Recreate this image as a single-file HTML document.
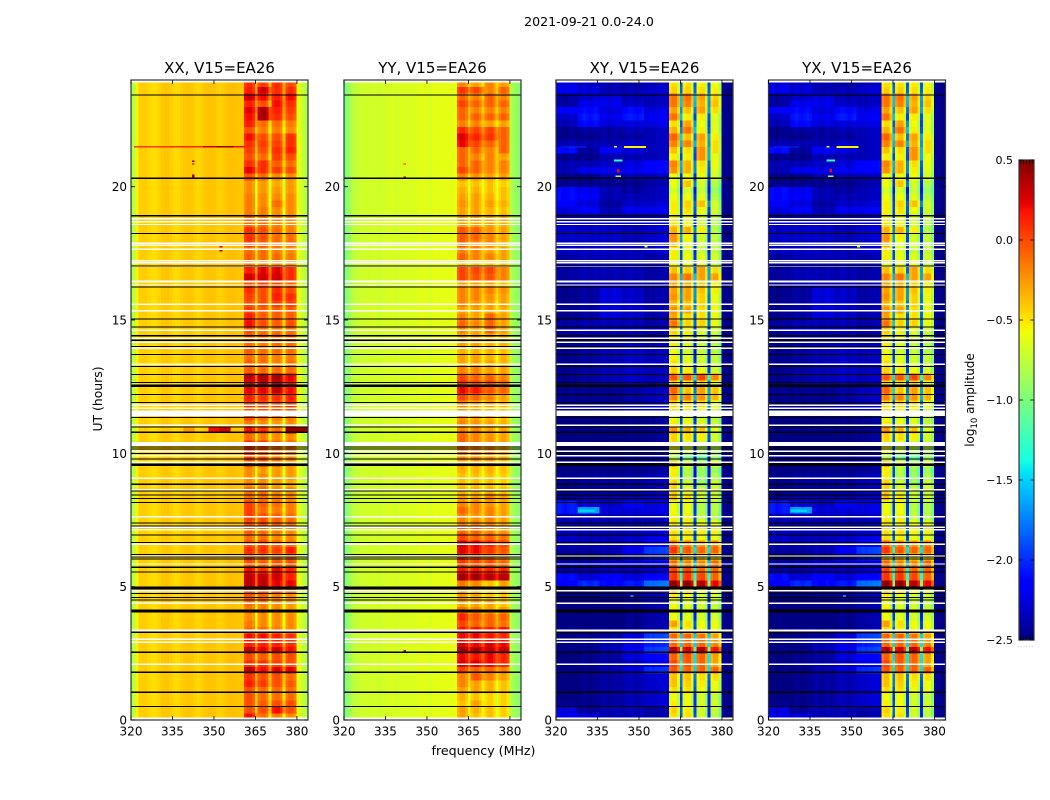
<!DOCTYPE html>
<html>
<head>
<meta charset="utf-8">
<title>2021-09-21 0.0-24.0</title>
<style>
html,body{margin:0;padding:0;background:#fff;}
svg{display:block;font-family:"DejaVu Sans","Liberation Sans",sans-serif;fill:#000;}
</style>
</head>
<body>
<svg id="chart" xmlns="http://www.w3.org/2000/svg" width="1050" height="800" viewBox="0 0 1050 800">
<text x="589" y="26" font-size="12.6" text-anchor="middle">2021-09-21 0.0-24.0</text>
<text x="483.5" y="755" font-size="12.6" text-anchor="middle">frequency (MHz)</text>
<text transform="translate(102,399) rotate(-90)" font-size="12.4" text-anchor="middle">UT (hours)</text>
<text transform="translate(974,400) rotate(-90)" font-size="12" text-anchor="middle">log<tspan font-size="8.5" dy="3">10</tspan><tspan dy="-3"> amplitude</tspan></text>
<g id="panels"></g>
<g id="colorbar"></g>
</svg>
<script>
// ---- categories and tick labels ----
const panelTitles = ["XX, V15=EA26", "YY, V15=EA26", "XY, V15=EA26", "YX, V15=EA26"];
const freqTicks = [320, 335, 350, 365, 380];
const hourTicks = [0, 5, 10, 15, 20];
const colorbarTicks = [0.5, 0.0, -0.5, -1.0, -1.5, -2.0, -2.5];

// ---- per-channel bandpass (log10 amplitude for off-band, offset for sub-band channels) ----
const xxChan = [-.85,-.72,-.55,-.42,-.42,-.42,-.45,-.47,-.48,-.47,-.44,-.41,-.40,-.40,-.42,-.45,-.47,-.46,-.43,-.41,-.40,-.40,-.41,-.44,-.46,-.44,-.41,-.40,-.39,-.39,-.40,-.42,-.44,-.42,-.40,-.38,-.38,-.38,-.39,-.40,-.40,
 -.06,0,0,-.08,-.42, -.06,0,0,-.08,-.4, -.06,0,0,-.08,-.4, -.06,0,0,-.08, -.6,-.65,-.75,-.8,-.85];
const yyChan = [-1.05,-.95,-.85,-.78,-.74,-.72,-.7,-.7,-.69,-.69,-.68,-.68,-.7,-.7,-.68,-.68,-.66,-.66,-.68,-.68,-.66,-.65,-.65,-.66,-.66,-.65,-.65,-.63,-.63,-.63,-.65,-.65,-.63,-.62,-.62,-.62,-.62,-.62,-.62,-.62,-.6,
 -.04,.03,.03,-.06,-.25, -.04,.03,.03,-.06,-.22, -.04,.03,.03,-.06,-.22, -.04,.03,.03,-.06, -.8,-.85,-.9,-.95,-1.0];
const xyChan = [-.07,-.04,-.07,-.1,-.07,-.04,-.04,-.07,-.1,-.07,-.04,-.07,-.1,-.07,-.04,-.07,-.07,-.04,-.07,-.1,-.07,-.04,-.07,-.07,-.1,-.07,-.04,-.04,-.07,-.1,-.07,-.04,-.07,-.07,-.04,-.07,-.04,-.04,-.02,-.02,.01,
 -.05,.03,.03,-.2,-1.4, -.05,.03,.03,-.2,-1.4, -.05,.03,.03,-.2,-1.35, -.05,.03,.03,-.25, -2.45,-2.45,-2.48,-2.48,-2.48];

// ---- sub-band level per 15-minute row (row 0 = 0.0 UT), four sub-bands ----
const xxBand = [
[.2,-.1,-.15,-.2],[0,0,.2,0],[0,-.05,0,0],[0,-.1,-.1,-.1],[0,-.1,-.1,-.1],[.15,.05,0,-.05],[.1,0,0,-.1],[.35,.2,.25,.25],
[.1,.1,.05,0],[0,-.05,0,0],[.35,.25,.3,.2],[.15,.15,.15,.1],[.2,.2,.15,.1],[-.1,-.1,-.15,-.2],[-.15,-.2,-.2,-.2],[-.2,-.2,-.2,-.2],
[-.15,-.15,-.2,-.25],[-.1,-.15,-.2,-.25],[0,-.05,-.15,-.2],[.05,.05,0,-.05],[.35,.35,.25,.25],[.35,.35,.3,.15],[.2,.1,.25,.15],[0,-.05,0,0],
[.05,-.1,-.1,-.05],[.1,.1,.05,.15],[0,.05,-.05,-.1],[-.1,-.1,-.2,-.2],[-.05,-.1,-.15,-.2],[0,0,-.05,-.1],[.05,0,-.05,-.1],[.05,-.1,-.15,-.15],
[.05,-.05,-.1,-.15],[-.1,-.1,-.15,-.2],[-.1,-.1,-.2,-.2],[-.2,-.2,-.25,-.3],[-.2,-.2,-.25,-.25],[-.2,-.25,-.25,-.25],[0,0,-.1,-.2],[.05,0,-.1,-.15],
[.1,0,-.1,-.1],[.1,.05,-.1,-.1],[-.1,-.15,-.2,-.2],[.2,.1,-.1,.45],[-.15,-.2,-.25,-.2],[0,-.1,-.15,-.15],[0,0,0,0],[.1,.05,.05,.1],
[.15,.1,.1,.15],[.25,.25,.35,.2],[.3,.35,.4,.2],[.35,.4,.4,.25],[-.05,-.1,-.1,-.1],[-.05,-.1,-.15,-.1],[-.1,-.1,-.15,-.15],[-.05,-.1,-.1,-.1],
[-.1,-.15,-.1,-.1],[-.05,-.05,-.05,-.05],[0,-.1,-.1,-.1],[.2,0,-.05,0],[.15,-.05,-.05,-.05],[.05,-.05,-.05,-.05],[0,0,.05,.05],[.05,0,.15,.1],
[.1,0,.1,0],[0,.05,0,-.05],[.3,.3,.3,.1],[.15,.25,.25,.1],[-.15,-.2,-.2,-.2],[-.05,-.1,-.1,-.15],[-.1,-.1,-.15,-.2],[.05,-.05,-.1,-.1],
[.1,0,-.1,-.1],[.1,0,-.1,-.15],[-.1,-.1,-.15,-.2],[-.1,-.15,-.2,-.2],[-.15,-.15,-.2,-.2],[-.15,-.2,-.1,-.2],[-.15,-.2,-.2,-.2],[-.2,-.25,-.25,-.25],
[-.2,-.25,-.3,-.25],[0,-.1,-.2,-.2],[.25,.1,.05,0],[.1,.1,-.05,-.1],[0,-.1,.05,0],[.05,0,.1,.15],[.1,.05,.05,.1],[.2,0,0,.1],
[0,-.15,-.15,-.2],[.15,-.1,-.1,-.15],[.2,.4,.1,0],[.25,.4,.15,.05],[.15,0,.2,.1],[.3,.2,.15,.2],[.15,.3,.1,.1],[.1,.05,.1,0]];
const yyBand = [
[-.3,-.4,-.4,-.45],[-.3,-.35,-.4,-.45],[-.4,-.3,-.45,-.45],[-.35,-.4,-.45,-.45],[-.3,-.3,-.35,-.4],[-.2,-.3,-.35,-.4],[-.2,-.05,-.2,-.3],[0,-.1,-.1,-.2],
[.25,.25,.2,.1],[.2,.15,.2,.1],[.4,.4,.3,.3],[.25,.2,.25,.2],[.2,.2,.15,.1],[.15,.15,.1,.15],[0,-.1,-.1,-.15],[.1,-.05,-.1,-.1],
[-.15,-.2,-.3,-.3],[-.3,-.3,-.3,-.4],[-.25,-.3,-.4,-.4],[-.25,-.35,-.45,-.4],[-.15,-.2,-.4,-.3],[.4,.4,.35,.35],[.15,.15,.1,.1],[.05,0,0,-.1],
[.05,0,-.1,-.2],[.25,.2,.05,-.05],[.25,.2,.1,0],[0,-.1,-.1,-.15],[-.1,-.1,-.2,-.25],[-.2,-.2,-.2,-.3],[-.2,-.25,-.2,-.3],[-.1,-.2,-.2,-.3],
[-.2,-.2,-.25,-.3],[-.3,-.3,-.2,-.3],[-.35,-.35,-.35,-.4],[-.4,-.4,-.4,-.45],[-.4,-.4,-.4,-.45],[-.35,-.35,-.35,-.4],[-.3,-.3,-.3,-.4],[-.2,-.2,-.25,-.3],
[-.1,-.2,-.2,-.3],[-.1,-.2,-.25,-.3],[-.1,-.2,-.25,-.3],[-.2,-.2,-.3,-.3],[-.2,-.25,-.3,-.35],[-.25,-.3,-.35,-.4],[-.25,-.3,-.35,-.4],[-.2,-.3,-.3,-.35],
[0,-.1,-.2,-.3],[.2,.15,-.05,-.1],[.1,0,0,-.1],[0,-.1,-.1,-.2],[-.2,-.2,-.3,-.3],[-.3,-.3,-.3,-.35],[-.3,-.3,-.35,-.35],[-.35,-.35,-.35,-.4],
[-.3,-.3,-.35,-.35],[-.3,-.3,-.3,-.35],[-.2,-.3,-.1,-.3],[-.1,-.2,-.1,-.3],[-.2,-.3,-.1,-.3],[-.3,-.3,-.3,-.35],[-.2,-.25,-.3,-.3],[-.2,-.2,-.25,-.3],
[-.2,-.2,-.2,-.25],[-.3,-.3,-.3,-.4],[0,-.05,-.05,-.2],[0,0,0,-.2],[-.4,-.4,-.4,-.4],[-.1,-.2,-.2,-.3],[-.2,-.2,-.3,-.3],[-.1,-.2,-.2,-.35],
[-.05,-.1,-.2,-.3],[-.05,-.1,-.25,-.3],[-.3,-.3,-.3,-.35],[-.3,-.3,-.35,-.35],[-.3,-.3,-.35,-.4],[-.25,-.3,-.3,-.35],[-.3,-.3,-.35,-.4],[-.35,-.35,-.4,-.4],
[-.4,-.4,-.4,-.45],[-.2,-.25,-.3,-.3],[0,-.1,-.2,-.2],[-.1,-.1,-.2,-.2],[-.1,-.2,-.2,-.3],[-.1,-.1,-.2,-.1],[.2,0,-.1,-.1],[.25,.1,.05,-.1],
[.1,0,0,-.1],[-.2,-.2,-.3,-.3],[-.1,-.1,-.1,-.1],[-.1,-.2,-.2,-.2],[0,-.1,-.1,-.1],[-.1,-.2,-.1,-.2],[.05,0,-.2,-.1],[-.2,-.3,-.2,-.3]];
const xyBand = [
[-.5,-.5,-.7,-.8],[-.45,-.55,-.7,-.75],[-.55,-.6,-.7,-.7],[-.6,-.6,-.7,-.75],[-.5,-.5,-.6,-.6],[-.4,-.45,-.55,-.6],[-.4,-.4,-.5,-.5],[-.05,-.1,-.1,-.1],
[0,-.05,-.1,-.3],[-.1,-.05,-.1,-.3],[.35,.25,.35,.15],[-.1,-.1,-.1,-.2],[-.1,-.1,-.15,-.3],[-.5,-.55,-.6,-.6],[-.3,-.5,-.6,-.6],[-.6,-.65,-.7,-.7],
[-.55,-.7,-.7,-.75],[-.6,-.65,-.7,-.75],[-.55,-.6,-.7,-.7],[-.4,-.5,-.6,-.6],[.45,.45,.35,.2],[.05,.05,0,-.1],[0,0,-.1,-.1],[-.1,-.2,-.2,-.1],
[-.4,-.4,-.45,-.45],[.05,-.05,-.1,-.1],[-.1,-.2,-.25,-.2],[-.5,-.55,-.6,-.6],[-.5,-.5,-.55,-.55],[-.5,-.55,-.6,-.6],[-.55,-.55,-.75,-.8],[-.6,-.6,-.8,-.8],
[-.6,-.6,-.8,-.8],[-.4,-.5,-.7,-.7],[-.45,-.6,-.7,-.7],[-.45,-.7,-.9,-.7],[-.55,-.8,-.9,-.8],[-.55,-.8,-.9,-.9],[-.35,-.6,-.8,-.6],[-.8,-1,-1.1,-.9],
[-.6,-.7,-.8,-.8],[-.5,-.65,-.7,-.7],[-.45,-.5,-.55,-.7],[-.25,-.35,-.4,-.65],[-.55,-.6,-.65,-.75],[-.6,-.65,-.7,-.75],[-.5,-.55,-.6,-.7],[-.45,-.45,-.45,-.6],
[-.2,-.2,-.25,-.35],[-.1,-.4,-.3,-.4],[-.45,-.5,-.45,-.6],[-.05,-.05,0,-.2],[-.45,-.55,-.6,-.7],[-.5,-.6,-.7,-.75],[-.55,-.65,-.7,-.75],[-.6,-.7,-.75,-.8],
[-.55,-.65,-.75,-.8],[-.5,-.6,-.7,-.75],[-.45,-.55,-.65,-.7],[-.15,-.45,-.45,-.6],[-.3,-.5,-.5,-.6],[-.25,-.3,-.5,-.6],[-.35,-.4,-.45,-.6],[-.25,-.3,-.45,-.6],
[-.3,-.3,-.4,-.55],[-.3,-.35,-.45,-.55],[-.2,-.15,-.3,-.3],[-.4,-.45,-.3,-.5],[-.6,-.6,-.6,-.75],[-.55,-.6,-.65,-.7],[-.55,-.65,-.75,-.75],[-.3,-.6,-.7,-.75],
[-.25,-.55,-.7,-.75],[-.35,-.35,-.55,-.8],[-.5,-.6,-.7,-.8],[-.55,-.6,-.7,-.75],[-.55,-.5,-.6,-.7],[-.55,-.45,-.4,-.7],[-.6,-.6,-.65,-.8],[-.7,-.7,-.75,-.9],
[-.6,-.4,-.7,-.8],[-.6,-.6,-.6,-.7],[-.25,-.35,-.55,-.65],[-.2,-.35,-.5,-.6],[-.55,-.55,-.25,-.6],[-.4,-.5,-.25,-.5],[-.2,-.2,-.35,-.5],[-.1,-.4,-.3,-.55],
[-.35,-.15,-.55,-.65],[-.5,-.3,-.6,-.65],[-.15,-.55,-.55,-.65],[-.3,-.4,-.3,-.5],[-.15,-.2,-.35,-.4],[-.15,-.15,-.3,-.45],[-.45,-.45,-.5,-.55],[-.5,-.5,-.55,-.6]];
const yxBand = xyBand;

// ---- cross-hand off-band level per 15-minute row, five frequency ranges ----
const xyOff = [
[-2.15,-2.2,-2.3,-2.3,-2.35],[-2.2,-2.35,-2.3,-2.3,-2.35],[-2.4,-2.4,-2.35,-2.3,-2.25],[-2.45,-2.4,-2.35,-2.3,-2.25],[-2.45,-2.4,-2.35,-2.3,-2.25],[-2.45,-2.4,-2.35,-2.3,-2.25],[-2.45,-2.4,-2.35,-2.3,-2.25],[-2.4,-2.4,-2.3,-2.2,-1.95],
[-2.45,-2.4,-2.35,-2.3,-2.2],[-2.45,-2.4,-2.35,-2.2,-2.1],[-2.4,-2.4,-2.3,-2.15,-1.9],[-2.45,-2.4,-2.3,-2.2,-2],[-2.45,-2.4,-2.35,-2.2,-1.9],[-2.4,-2.4,-2.4,-2.4,-2.35],[-2.45,-2.45,-2.45,-2.4,-2.35],[-2.45,-2.45,-2.45,-2.4,-2.35],
[-2.45,-2.45,-2.45,-2.4,-2.35],[-2.45,-2.45,-2.45,-2.4,-2.35],[-2.45,-2.45,-2.4,-2.35,-2.3],[-2.45,-2.45,-2.4,-2.35,-2.3],[-2.1,-1.95,-2.05,-2,-1.75],[-2.05,-2.2,-2.1,-2.2,-2.1],[-2.35,-2.35,-2.3,-2.3,-2.25],[-2.35,-2.35,-2.3,-2.3,-2.25],
[-2.45,-2.4,-2.3,-2.15,-2],[-2.35,-2.35,-2.3,-2.15,-1.9],[-2.3,-2.3,-2.3,-2.25,-2.1],[-2.25,-2.3,-2.3,-2.25,-2.2],[-2.3,-2.3,-2.3,-2.3,-2.25],[-2.3,-2.3,-2.3,-2.3,-2.3],[-2.3,-2.3,-2.3,-2.3,-2.3],[-2,-1.6,-2.2,-2.2,-2.2],
[-2,-2.2,-2.25,-2.1,-2.2],[-2.4,-2.35,-2.35,-2.35,-2.3],[-2.4,-2.35,-2.35,-2.35,-2.3],[-2.4,-2.35,-2.35,-2.35,-2.3],[-2.4,-2.35,-2.35,-2.35,-2.3],[-2.45,-2.45,-2.45,-2.42,-2.4],[-2.45,-2.45,-2.45,-2.42,-2.4],[-2.45,-2.45,-2.45,-2.42,-2.4],
[-2.45,-2.45,-2.45,-2.42,-2.4],[-2.45,-2.45,-2.45,-2.42,-2.4],[-2.45,-2.45,-2.45,-2.42,-2.4],[-2.4,-2.4,-2.4,-2.42,-2.4],[-2.45,-2.45,-2.45,-2.42,-2.4],[-2.45,-2.45,-2.45,-2.42,-2.4],[-2.4,-2.4,-2.4,-2.35,-2.3],[-2.4,-2.4,-2.4,-2.35,-2.3],
[-2.4,-2.4,-2.4,-2.35,-2.3],[-2.4,-2.4,-2.4,-2.35,-2.3],[-2.4,-2.35,-2.3,-2.25,-2.3],[-2.4,-2.35,-2.3,-2.25,-2.3],[-2.4,-2.35,-2.3,-2.25,-2.3],[-2.4,-2.35,-2.3,-2.25,-2.3],[-2.4,-2.35,-2.3,-2.25,-2.3],[-2.4,-2.35,-2.3,-2.25,-2.3],
[-2.4,-2.35,-2.3,-2.25,-2.3],[-2.35,-2.3,-2.3,-2.3,-2.35],[-2.35,-2.3,-2.3,-2.3,-2.35],[-2.35,-2.3,-2.3,-2.3,-2.35],[-2.4,-2.35,-2.2,-2.25,-2.35],[-2.4,-2.35,-2.2,-2.25,-2.35],[-2.4,-2.35,-2.2,-2.25,-2.35],[-2.4,-2.35,-2.2,-2.25,-2.35],
[-2.4,-2.35,-2.2,-2.25,-2.35],[-2.35,-2.3,-2.3,-2.3,-2.35],[-2.35,-2.3,-2.3,-2.3,-2.35],[-2.35,-2.3,-2.3,-2.3,-2.35],[-2.35,-2.3,-2.3,-2.3,-2.35],[-2.35,-2.3,-2.3,-2.3,-2.35],[-2.25,-2.25,-2.25,-2.3,-2.25],[-2.25,-2.25,-2.25,-2.3,-2.25],
[-2.25,-2.25,-2.25,-2.3,-2.25],[-2.25,-2.25,-2.25,-2.3,-2.25],[-2.25,-2.25,-2.25,-2.3,-2.25],[-2.3,-2.3,-2.3,-2.3,-2.3],[-2.2,-2.1,-2.3,-2.15,-2.15],[-2.1,-2.2,-2.35,-2.25,-2.25],[-2.05,-2.1,-2.3,-2.3,-2.3],[-2.05,-2.15,-2.3,-2.35,-2.3],
[-2.4,-2.4,-2.4,-2.4,-2.35],[-2.4,-2.4,-2.3,-2.3,-2.3],[-2.3,-2.15,-2.15,-2.15,-2.1],[-2.3,-2.3,-2.25,-2.2,-2.1],[-2.4,-2.4,-2.3,-2.3,-2.3],[-2.05,-2.35,-2.1,-2.2,-2.3],[-2.3,-2.3,-2.3,-2.25,-2.3],[-2.4,-2.4,-2.35,-2.35,-2.3],
[-2.4,-2.35,-2.35,-2.3,-2.3],[-2.3,-2.05,-2.2,-2.2,-2.2],[-2.25,-2,-2.15,-2,-2.15],[-2.1,-2.05,-2.2,-2.05,-2.2],[-2.35,-2.15,-2.15,-2.25,-2.3],[-2.35,-2.25,-2.2,-2.3,-2.3],[-2.15,-2.2,-2.3,-2.3,-2.25],[-2.2,-2.25,-2.3,-2.35,-2.3]];

// ---- narrow-band RFI: [hour, start MHz, end MHz, log10 amplitude, duration hours] ----
const xxSpikes = [[21.49,321,334,.05,.06],[21.49,334,346,.1,.06],[21.49,346,351,.3,.06],[21.49,351,357,.45,.06],[21.49,357,361,.2,.06],[10.9,339,343,-.25,.15],[10.9,348,352,.2,.15],[10.9,352,356,.3,.15],[10.9,376,384,.45,.15],[20.95,342,343,.4,.05],[20.85,342,343,.4,.05],[20.4,342,343,.45,.1],[17.75,352,353,.3,.05],[17.6,352,353,.4,.05]];
const yySpikes = [[20.85,341.5,342.5,.2,.05],[20.35,341.5,342.5,.45,.05],[2.6,341.5,342.5,.45,.05]];
const xySpikes = [[21.49,344.5,352.5,-.55,.07],[21.49,341,342,-.6,.06],[21.49,322,331,-2,.05],[20.98,341,344,-1.3,.06],[20.39,341.5,343.5,-.9,.06],[7.85,328,334,-1.5,.1],[4.65,347,348,-1.2,.05],[20.6,342,343,.2,.12],[17.75,352,353,-.6,.06]];
const yxSpikes = xySpikes;

// ---- flagged integrations: [hour, duration hours] ----
const whiteFlags = [[.04,.1],[23.95,.1],[18.8,.05],[18.69,.05],[18.58,.05],[17.88,.05],[17.8,.05],[17.65,.05],[17.22,.05],[17.15,.05],[17.02,.05],[16.45,.08],[16.31,.05],[15.59,.05],[15.35,.05],[14.61,.05],[14.31,.05],[14.16,.05],[13.94,.05],[13.34,.05],[11.8,.05],[11.69,.05],[11.5,.2],[11.05,.05],[10.35,.15],[10.08,.05],[9.91,.05],[9.66,.05],[9.06,.05],[8.64,.06],[7.62,.07],[7.23,.05],[7.13,.05],[6.59,.05],[6.15,.05],[5.85,.05],[4.85,.05],[4.38,.05],[3.35,.07],[3.03,.05],[2.91,.05],[2.09,.05]];
const blackFlags = [[23.43,.04],[20.31,.05],[18.91,.04],[18.25,.04],[17.03,.04],[16.23,.04],[15.03,.04],[14.73,.04],[14.41,.07],[14.24,.04],[14.01,.04],[13.71,.04],[13.26,.04],[12.96,.04],[12.66,.04],[12.53,.09],[12.21,.04],[11.91,.04],[11.35,.04],[10.98,.04],[10.79,.04],[10.23,.04],[10.16,.04],[10,.04],[9.78,.04],[9.59,.04],[9.54,.04],[8.84,.04],[8.58,.04],[8.43,.04],[8.31,.04],[8.16,.04],[7.38,.04],[7.28,.04],[6.93,.04],[6.65,.04],[6.21,.04],[6.12,.04],[6.03,.04],[5.73,.07],[5.55,.04],[4.95,.1],[4.75,.04],[4.6,.04],[4.5,.04],[4.09,.11],[3.29,.04],[2.54,.04],[1.79,.04],[1.04,.04],[.51,.04]];

// ---- layout ----
const SVG_NS = "http://www.w3.org/2000/svg";
const panelLefts = [131, 344, 556, 768.5];
const panelWidth = 177, plotTop = 80, plotBottom = 720;
const freqMin = 320, freqMax = 384, hourMax = 24, cbLeft = 1019, cbRight = 1034, cbTop = 160, cbBottom = 640;
const xScale = (panel, f) => panelLefts[panel] + (f - freqMin) / (freqMax - freqMin) * panelWidth;
const yScale = h => plotBottom - h / hourMax * (plotBottom - plotTop);
const cbScale = v => cbTop + (0.5 - v) / 3 * (cbBottom - cbTop);

function ramp(t, xs, ys) {
  if (t <= xs[0]) return ys[0];
  for (let i = 1; i < xs.length; i++) {
    if (t <= xs[i]) return ys[i - 1] + (ys[i] - ys[i - 1]) * (t - xs[i - 1]) / (xs[i] - xs[i - 1]);
  }
  return ys[ys.length - 1];
}
function jet(v) {
  const t = Math.min(1, Math.max(0, (v + 2.5) / 3));
  const r = ramp(t, [0, .35, .66, .89, 1], [0, 0, 1, 1, .5]);
  const g = ramp(t, [0, .125, .375, .64, .91, 1], [0, 0, 1, 1, 0, 0]);
  const b = ramp(t, [0, .11, .34, .65, 1], [.5, 1, 1, 0, 0]);
  return "rgb(" + Math.round(r * 255) + "," + Math.round(g * 255) + "," + Math.round(b * 255) + ")";
}
function make(tag, attrs, parent) {
  const el = document.createElementNS(SVG_NS, tag);
  for (const k in attrs) el.setAttribute(k, attrs[k]);
  parent.appendChild(el);
  return el;
}

const panelChans = [xxChan, yyChan, xyChan, xyChan];
const panelBands = [xxBand, yyBand, xyBand, yxBand];
const panelOffs = [null, null, xyOff, xyOff];
const panelSpikes = [xxSpikes, yySpikes, xySpikes, yxSpikes];
const panelKeys = ["xx", "yy", "xy", "yx"];

function cellValue(p, r, c) {
  const chan = panelChans[p][c];
  if (c < 41) {
    const off = panelOffs[p];
    return off ? chan + off[r][Math.min(4, Math.floor(c / 8))] : chan;
  }
  if (c < 60) return chan + panelBands[p][r][Math.floor((c - 41) / 5)];
  return chan;
}

const panelsRoot = document.getElementById("panels");
panelTitles.forEach(function (title, p) {
  const key = panelKeys[p];
  const g = make("g", {}, panelsRoot);
  
  

  const cells = make("g", { "shape-rendering": "crispEdges" }, g);
  
  
  const rows = panelBands[p].length, chans = panelChans[p].length;
  const rowSpan = hourMax / rows;
  for (let r = 0; r < rows; r++) {
    const yTop = yScale((r + 1) * rowSpan), yBot = yScale(r * rowSpan);
    for (let c = 0; c < chans; c++) {
      const f0 = Math.max(freqMin, 319.8 + c), f1 = Math.min(freqMax, 320.8 + c);
      const x0 = xScale(p, f0), x1 = xScale(p, f1);
      const cell = make("rect", { x: x0.toFixed(2), y: yTop.toFixed(2), width: (x1 - x0 + .4).toFixed(2), height: (yBot - yTop + .4).toFixed(2), fill: jet(cellValue(p, r, c)) }, cells);
      
      
    }
  }

  panelSpikes[p].forEach(function (s) {
    const x0 = xScale(p, s[1]), x1 = xScale(p, s[2]), y0 = yScale(s[0] + s[4] / 2), y1 = yScale(s[0] - s[4] / 2);
    const spike = make("rect", { x: x0, y: y0, width: x1 - x0, height: y1 - y0, fill: jet(s[3]), "shape-rendering": "crispEdges" }, g);
    
    
  });

  whiteFlags.forEach(function (s) {
    const y0 = yScale(s[0] + s[1] / 2), y1 = yScale(s[0] - s[1] / 2);
    const flag = make("rect", { x: panelLefts[p], y: y0, width: panelWidth, height: y1 - y0, fill: "#fff", "shape-rendering": "crispEdges" }, g);
    
    
  });
  blackFlags.forEach(function (s) {
    const y0 = yScale(s[0] + s[1] / 2), y1 = yScale(s[0] - s[1] / 2);
    const flag = make("rect", { x: panelLefts[p], y: y0, width: panelWidth, height: y1 - y0, fill: "#000", "shape-rendering": "crispEdges" }, g);
    
    
  });

  const frame = make("rect", { x: panelLefts[p], y: plotTop, width: panelWidth, height: plotBottom - plotTop, fill: "none", stroke: "#333", "stroke-width": 1.2 }, g);
  
  

  const titleEl = make("text", { x: panelLefts[p] + panelWidth / 2, y: 73, "font-size": 15, "text-anchor": "middle" }, g);
  titleEl.textContent = title;
  
  

  freqTicks.forEach(function (f) {
    const x = xScale(p, f);
    const tick = make("path", { d: "M" + x + " " + plotBottom + "v-4M" + x + " " + plotTop + "v4", stroke: "#000", "stroke-width": .8, fill: "none" }, g);
    
    
    const label = make("text", { x: x, y: 735.5, "font-size": 12, "text-anchor": "middle" }, g);
    label.textContent = String(f);
    
    
  });
  hourTicks.forEach(function (h) {
    const y = yScale(h), xl = panelLefts[p], xr = xl + panelWidth;
    const tick = make("path", { d: "M" + xl + " " + y + "h4M" + xr + " " + y + "h-4", stroke: "#000", "stroke-width": .8, fill: "none" }, g);
    
    
    const label = make("text", { x: xl - 4, y: y + 4.5, "font-size": 12, "text-anchor": "end" }, g);
    label.textContent = String(h);
    
    
  });
});

// ---- colorbar ----
const cb = document.getElementById("colorbar");
const cbStep = 0.0125;
for (let i = 0; i < 240; i++) {
  const vTop = 0.5 - i * cbStep;
  const seg = make("rect", { x: cbLeft, y: cbScale(vTop), width: cbRight - cbLeft, height: cbScale(vTop - cbStep) - cbScale(vTop) + .5, fill: jet(vTop - cbStep / 2), "shape-rendering": "crispEdges" }, cb);
  
  
}
const cbFrame = make("rect", { x: cbLeft, y: cbTop, width: cbRight - cbLeft, height: cbBottom - cbTop, fill: "none", stroke: "#333", "stroke-width": 1.2 }, cb);


colorbarTicks.forEach(function (v) {
  const y = cbScale(v);
  const tick = make("path", { d: "M" + cbLeft + " " + y + "h4M" + cbRight + " " + y + "h-4", stroke: "#000", "stroke-width": .8, fill: "none" }, cb);
  
  
  const label = make("text", { x: 1013, y: y + 4, "font-size": 11, "text-anchor": "end" }, cb);
  label.textContent = v.toFixed(1).replace("-", "\u2212");
  
  
});
for (let i = 0; i < 5; i++) {
  const x = cbLeft + 1.5 + i * 3;
  const mini = make("path", { d: "M" + x + " " + cbTop + "v4M" + x + " " + cbBottom + "v-4", stroke: "#000", "stroke-width": .7, fill: "none" }, cb);
  
  
}
const cbDots = make("text", { x: 1026, y: 647, "font-size": 5, "text-anchor": "middle", fill: "#666", "letter-spacing": "1.2" }, cb);
cbDots.textContent = "......";


</script>
</body>
</html>
